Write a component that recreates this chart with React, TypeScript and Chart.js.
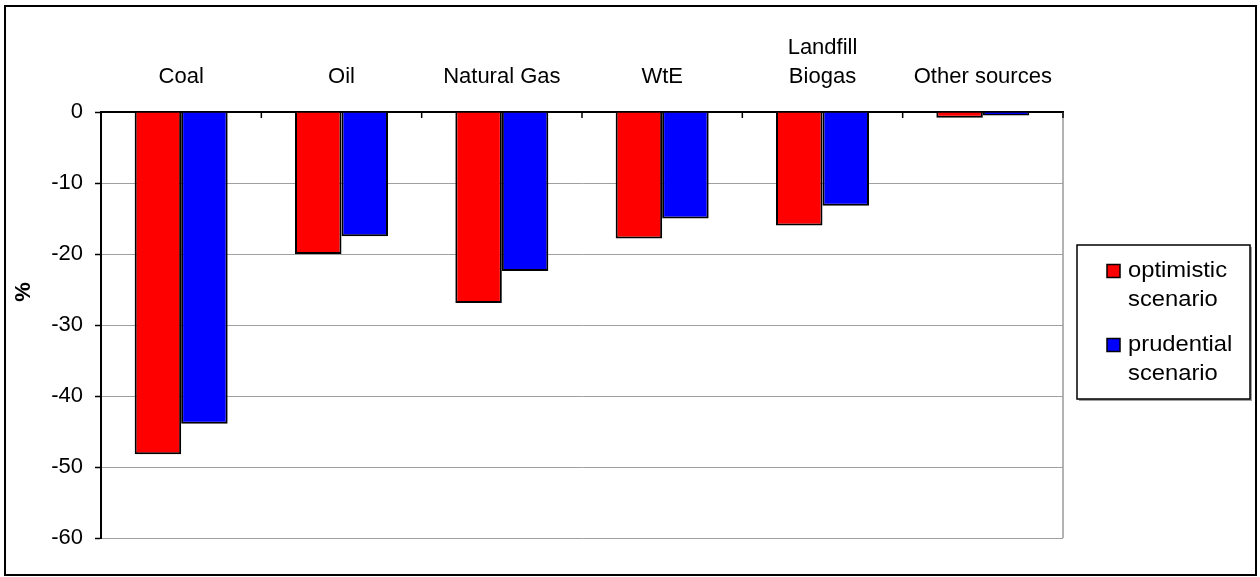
import React, { useEffect, useRef } from "react";
import { Chart, registerables } from "chart.js";

Chart.register(...registerables);

const categories: (string | string[])[] = ["Coal", "Oil", "Natural Gas", "WtE", ["Landfill", "Biogas"], "Other sources"];
const optimistic = [-48.2, -20.0, -26.9, -17.8, -16.0, -0.8];
const prudential = [-43.9, -17.5, -22.4, -15.0, -13.2, -0.5];
const yTicks = [0, -10, -20, -30, -40, -50, -60];
const seriesNames = [["optimistic", "scenario"], ["prudential", "scenario"]];
const seriesColors = ["#ff0000", "#0000ff"];
const yTitle = "%";

const FONT = "'Liberation Sans', Arial, sans-serif";

export default function App() {
  const ref = useRef<HTMLCanvasElement | null>(null);

  useEffect(() => {
    document.body.style.margin = "0";
    const canvas = ref.current;
    if (!canvas) return;

    const decor = {
      id: "decor",
      beforeDraw(chart: any) {
        const ctx = chart.ctx;
        ctx.save();
        ctx.fillStyle = "#ffffff";
        ctx.fillRect(0, 0, chart.width, chart.height);
        ctx.restore();
      },
      afterDraw(chart: any) {
        const ctx = chart.ctx;
        const ca = chart.chartArea;
        const xs = chart.scales.x;
        ctx.save();
        // right gray border of plot area
        ctx.strokeStyle = "#9a9a9a";
        ctx.lineWidth = 1.5;
        ctx.beginPath();
        ctx.moveTo(ca.right, ca.top);
        ctx.lineTo(ca.right, ca.bottom);
        ctx.stroke();
        // inward tick marks at category boundaries
        ctx.strokeStyle = "#000";
        ctx.lineWidth = 1.5;
        const n = categories.length;
        const step = (xs.right - xs.left) / n;
        for (let i = 0; i <= n; i++) {
          const x = xs.left + i * step;
          ctx.beginPath();
          ctx.moveTo(x, ca.top);
          ctx.lineTo(x, ca.top + 6);
          ctx.stroke();
        }
        // y title
        ctx.fillStyle = "#000";
        ctx.font = `bold 22px ${FONT}`;
        ctx.textAlign = "center";
        ctx.textBaseline = "middle";
        ctx.translate(24, 292);
        ctx.rotate(-Math.PI / 2);
        ctx.fillText(yTitle, 0, 0);
        ctx.setTransform(1, 0, 0, 1, 0, 0);
        // legend
        const lx = ca.right + 14;
        const ly = 245;
        const lw = 173;
        const lh = 154;
        ctx.fillStyle = "#fff";
        ctx.fillRect(lx, ly, lw, lh);
        ctx.strokeStyle = "#a0a0a0";
        ctx.lineWidth = 2;
        ctx.beginPath();
        ctx.moveTo(lx + 2, ly + lh + 1);
        ctx.lineTo(lx + lw + 1, ly + lh + 1);
        ctx.lineTo(lx + lw + 1, ly + 2);
        ctx.stroke();
        ctx.strokeStyle = "#000";
        ctx.lineWidth = 1.5;
        ctx.strokeRect(lx, ly, lw, lh);
        ctx.font = `22px ${FONT}`;
        ctx.textAlign = "left";
        ctx.textBaseline = "middle";
        seriesNames.forEach((lines, i) => {
          const cy = ly + 26 + i * 74;
          ctx.fillStyle = seriesColors[i];
          ctx.fillRect(lx + 30, cy - 6.5, 13, 13);
          ctx.strokeStyle = "#000";
          ctx.lineWidth = 1.5;
          ctx.strokeRect(lx + 30, cy - 6.5, 13, 13);
          ctx.fillStyle = "#000";
          lines.forEach((t, j) => {
            ctx.save();
            ctx.translate(lx + 51, cy + j * 29);
            ctx.scale(1.08, 1);
            ctx.fillText(t, 0, 0);
            ctx.restore();
          });
        });
        // outer border
        ctx.strokeStyle = "#000";
        ctx.lineWidth = 2;
        ctx.strokeRect(5, 6, chart.width - 9, chart.height - 8);
        ctx.restore();
      },
    };

    const chart = new Chart(canvas, {
      type: "bar",
      data: {
        labels: categories as any,
        datasets: [
          {
            label: seriesNames[0].join(" "),
            data: optimistic,
            backgroundColor: seriesColors[0],
            borderColor: "#000",
            borderWidth: 2,
            categoryPercentage: 0.58,
            barPercentage: 1,
          },
          {
            label: seriesNames[1].join(" "),
            data: prudential,
            backgroundColor: seriesColors[1],
            borderColor: "#000",
            borderWidth: 2,
            categoryPercentage: 0.58,
            barPercentage: 1,
          },
        ],
      },
      options: {
        responsive: false,
        animation: false,
        devicePixelRatio: 1,
        layout: { padding: { left: 10, right: 197, top: 0, bottom: 39 } },
        plugins: { legend: { display: false }, tooltip: { enabled: false } },
        scales: {
          x: {
            position: "top",
            grid: { display: false, drawTicks: false },
            border: { display: true, color: "#000", width: 2 },
            ticks: {
              color: "#000",
              padding: 21,
              maxRotation: 0,
              autoSkip: false,
              font: { family: FONT, size: 22, lineHeight: 1.32 },
            },
            afterFit: (s: any) => {
              s.height = 112;
            },
          },
          y: {
            min: -60,
            max: 0,
            afterBuildTicks: (s: any) => {
              s.ticks = yTicks.map((v) => ({ value: v }));
            },
            grid: {
              color: "#a0a0a0",
              lineWidth: 1,
              tickColor: "#000",
              tickLength: 6,
              tickWidth: 1.5,
            },
            border: { display: true, color: "#000", width: 2 },
            ticks: {
              color: "#000",
              padding: 12,
              font: { family: FONT, size: 22 },
              callback: (v: any) => String(v),
            },
            afterFit: (s: any) => {
              s.width = 91;
            },
          },
        },
      },
      plugins: [decor],
    });
    return () => chart.destroy();
  }, []);

  return (
    <div style={{ width: 1260, height: 577 }}>
      <canvas ref={ref} width={1260} height={577} style={{ display: "block" }} />
    </div>
  );
}
